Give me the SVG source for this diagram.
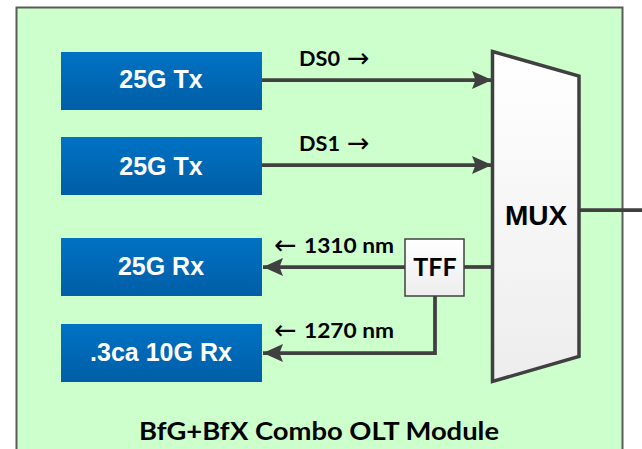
<svg xmlns="http://www.w3.org/2000/svg" width="642" height="449" viewBox="0 0 642 449">
<style>
.bt{font-family:"Liberation Sans",Arial,sans-serif;font-weight:bold;font-size:25px;fill:#ffffff;text-anchor:middle}
.lbl{font-family:Lato,"Open Sans",sans-serif;font-weight:bold;font-size:21px;fill:#000000}
.arr{font-family:"DejaVu Sans",sans-serif;font-size:27px;fill:#000000}
.ln{stroke:#404040;stroke-width:3.75;fill:none}
</style>
<defs>
<linearGradient id="blue" x1="0" y1="0" x2="0" y2="1">
<stop offset="0" stop-color="#0072c4"/>
<stop offset="1" stop-color="#005ea6"/>
</linearGradient>
<linearGradient id="wg" x1="0" y1="0" x2="0" y2="1">
<stop offset="0" stop-color="#ffffff"/>
<stop offset="1" stop-color="#ededed"/>
</linearGradient>
<marker id="ah" markerWidth="22" markerHeight="20" refX="20" refY="10" orient="auto" markerUnits="userSpaceOnUse" viewBox="0 0 22 20">
<path d="M0,1 L20,10 L0,19 L3.5,10 Z" fill="#404040"/>
</marker>
</defs>
<rect x="0" y="0" width="642" height="449" fill="#ffffff"/>
<g id="module">
<rect x="16.5" y="7.5" width="606" height="460" fill="#ccffcc" stroke="#5a5a5a" stroke-width="2"/>
<text x="319" y="439.5" font-family="Lato,'Open Sans',sans-serif" font-weight="bold" font-size="25.5" text-anchor="middle" fill="#000" textLength="360" lengthAdjust="spacingAndGlyphs">BfG+BfX Combo OLT Module</text>
</g>
<g id="connectors">
<line class="ln" x1="262" y1="80" x2="492" y2="80" marker-end="url(#ah)"/>
<line class="ln" x1="262" y1="165" x2="492" y2="165" marker-end="url(#ah)"/>
<line class="ln" x1="464" y1="267" x2="492" y2="267"/>
<line class="ln" x1="405" y1="267" x2="263" y2="267" marker-end="url(#ah)"/>
<polyline class="ln" points="435,296 435,353 263,353" marker-end="url(#ah)"/>
<line class="ln" x1="579" y1="210" x2="642" y2="210"/>
<text class="lbl" x="299" y="66" textLength="41" lengthAdjust="spacingAndGlyphs">DS0</text>
<text class="arr" x="347" y="67">→</text>
<text class="lbl" x="299" y="151" textLength="41" lengthAdjust="spacingAndGlyphs">DS1</text>
<text class="arr" x="347" y="152">→</text>
<text class="arr" x="274" y="254">←</text>
<text class="lbl" x="304" y="253" textLength="90" lengthAdjust="spacingAndGlyphs">1310 nm</text>
<text class="arr" x="274" y="339">←</text>
<text class="lbl" x="304" y="338" textLength="90" lengthAdjust="spacingAndGlyphs">1270 nm</text>
</g>
<g id="tx1">
<rect x="61" y="52" width="201" height="58" fill="url(#blue)"/>
<text class="bt" x="161" y="88">25G Tx</text>
</g>
<g id="tx2">
<rect x="61" y="137" width="201" height="58" fill="url(#blue)"/>
<text class="bt" x="161" y="175">25G Tx</text>
</g>
<g id="rx1">
<rect x="61" y="238" width="201" height="58" fill="url(#blue)"/>
<text class="bt" x="161" y="275">25G Rx</text>
</g>
<g id="rx2">
<rect x="61" y="324" width="201" height="58" fill="url(#blue)"/>
<text class="bt" x="161" y="361">.3ca 10G Rx</text>
</g>
<g id="tff">
<rect x="405" y="239" width="59" height="57" fill="url(#wg)" stroke="#404040" stroke-width="1.5"/>
<text x="435" y="276" font-family="Lato,'Open Sans',sans-serif" font-weight="bold" font-size="25" text-anchor="middle" fill="#000">TFF</text>
</g>
<g id="mux">
<polygon points="492.5,51.5 579,76 579,356.5 492.5,381.5" fill="url(#wg)" stroke="#404040" stroke-width="3.5" stroke-linejoin="miter"/>
<text x="536" y="225" font-family="'Liberation Sans',Arial,sans-serif" font-weight="bold" font-size="28" text-anchor="middle" fill="#000">MUX</text>
</g>
</svg>
